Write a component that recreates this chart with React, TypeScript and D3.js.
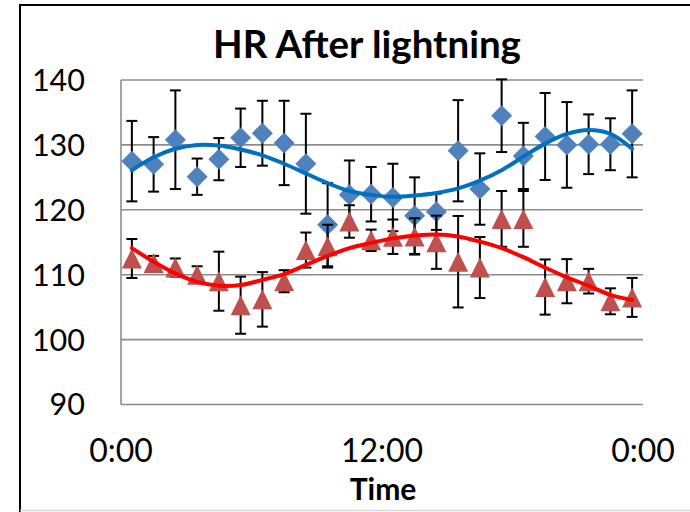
import React from "react";
import * as d3 from "d3";

// Hour of day for each sample (bin centres)
const hours = [0.5, 1.5, 2.5, 3.5, 4.5, 5.5, 6.5, 7.5, 8.5, 9.5, 10.5, 11.5, 12.5, 13.5, 14.5, 15.5, 16.5, 17.5, 18.5, 19.5, 20.5, 21.5, 22.5, 23.5];

// Blue series: mean heart rate and error
const blueMean = [127.5, 127.0, 130.8, 125.1, 127.8, 131.1, 131.8, 130.3, 127.1, 117.7, 122.3, 122.4, 121.9, 119.1, 119.7, 129.1, 123.2, 134.5, 128.3, 131.3, 130.0, 130.1, 130.1, 131.7];
const blueErr = [6.2, 4.2, 7.6, 2.8, 3.25, 4.5, 5.0, 6.5, 7.7, 6.4, 5.3, 4.2, 5.2, 5.9, 2.8, 7.8, 5.5, 5.6, 5.1, 6.7, 6.6, 4.6, 4.0, 6.7];
// Blue fitted trend
const blueFit = [126.1, 128.1, 129.4, 130.0, 129.9, 129.3, 128.4, 127.1, 125.6, 124.1, 122.9, 122.3, 122.0, 122.2, 122.6, 123.3, 124.5, 126.1, 128.2, 130.2, 131.7, 132.3, 131.7, 129.4];

// Red series: mean heart rate and error
const redMean = [112.5, 111.8, 111.1, 110.0, 109.0, 105.3, 106.2, 109.0, 113.8, 114.4, 118.2, 115.3, 115.85, 115.9, 115.0, 112.0, 111.1, 118.6, 118.6, 108.1, 109.0, 109.0, 105.9, 106.5];
const redErr = [3.0, 1.1, 1.4, 1.3, 4.55, 4.4, 4.2, 1.7, 2.7, 3.3, 2.5, 1.65, 2.65, 2.8, 4.1, 7.05, 4.7, 4.3, 4.3, 4.25, 3.4, 1.9, 2.0, 3.0];
// Red fitted trend
const redFit = [114.1, 112.0, 110.2, 108.9, 108.3, 108.4, 109.2, 110.1, 111.5, 112.9, 114.1, 114.9, 115.6, 116.0, 116.2, 115.9, 115.1, 114.1, 112.7, 111.1, 109.6, 108.3, 106.9, 106.1];

const yTicks = [90, 100, 110, 120, 130, 140];
const xTicks = [0, 12, 24];
const xTickLabels = ["0:00", "12:00", "0:00"];

const FONT = "Lato, 'Noto Sans', sans-serif";

export default function App() {
  const W = 690;
  const H = 512;
  const x = d3.scaleLinear().domain([0, 24]).range([121, 643]);
  const y = d3.scaleLinear().domain([90, 140]).range([404.5, 80]);

  const line = d3
    .line<number>()
    .x((_, i) => x(hours[i]))
    .y((d) => y(d))
    .curve(d3.curveCatmullRom.alpha(0.5));

  const diamond = (cx: number, cy: number, r: number) =>
    `M${cx},${cy - r}L${cx + r},${cy}L${cx},${cy + r}L${cx - r},${cy}Z`;
  const triangle = (cx: number, cy: number, r: number) =>
    `M${cx},${cy - r}L${cx + r},${cy + r}L${cx - r},${cy + r}Z`;

  const errorBars = (mean: number[], err: number[], key: string) =>
    mean.map((m, i) => {
      const cx = x(hours[i]);
      const top = y(m + err[i]);
      const bot = y(m - err[i]);
      return (
        <g key={`${key}${i}`} stroke="#000" strokeWidth={2}>
          <line x1={cx} x2={cx} y1={top} y2={bot} />
          <line x1={cx - 5.5} x2={cx + 5.5} y1={top} y2={top} />
          <line x1={cx - 5.5} x2={cx + 5.5} y1={bot} y2={bot} />
        </g>
      );
    });

  return (
    <svg
      width={W}
      height={H}
      style={{ position: "absolute", left: 0, top: 0, background: "#fff" }}
    >
      <rect x={0} y={0} width={W} height={H} fill="#fff" />
      {/* chart frame */}
      <line x1={20} x2={20} y1={4} y2={512} stroke="#000" strokeWidth={2} />
      <line x1={19} x2={W} y1={5} y2={5} stroke="#000" strokeWidth={2} />
      <line x1={20} x2={W} y1={510.5} y2={510.5} stroke="#d9d9d9" strokeWidth={1.5} />

      {/* title */}
      <text x={367} y={58} textAnchor="middle" fontFamily={FONT} fontWeight="bold" fontSize={38.5} fill="#000">
        HR After lightning
      </text>

      {/* gridlines */}
      {yTicks.map((t) => (
        <line key={t} x1={x(0)} x2={x(24)} y1={y(t)} y2={y(t)} stroke="#8c8c8c" strokeWidth={1.6} />
      ))}
      <line x1={x(0)} x2={x(0)} y1={y(140)} y2={y(90)} stroke="#8c8c8c" strokeWidth={1.6} />

      {/* y tick labels */}
      {yTicks.map((t) => (
        <text key={t} x={85} y={y(t)} dy="0.36em" textAnchor="end" fontFamily={FONT} fontSize={30.5} fill="#000">
          {t}
        </text>
      ))}

      {/* x tick labels */}
      {xTicks.map((t, i) => (
        <text key={i} x={x(t)} y={462} textAnchor="middle" fontFamily={FONT} fontSize={32} fill="#000">
          {xTickLabels[i]}
        </text>
      ))}
      <text x={383} y={500} textAnchor="middle" fontFamily={FONT} fontWeight="bold" fontSize={30} fill="#000">
        Time
      </text>

      {/* blue series */}
      {errorBars(blueMean, blueErr, "be")}
      {blueMean.map((m, i) => (
        <path key={`bd${i}`} d={diamond(x(hours[i]), y(m), 10.5)} fill="#4f81bd" />
      ))}

      {/* red series */}
      {errorBars(redMean, redErr, "re")}
      {redMean.map((m, i) => (
        <path key={`rt${i}`} d={triangle(x(hours[i]), y(m), 10)} fill="#c0504d" />
      ))}

      {/* fitted trends */}
      <path d={line(blueFit) || ""} fill="none" stroke="#0070c0" strokeWidth={4} strokeLinecap="round" />
      <path d={line(redFit) || ""} fill="none" stroke="#ff0000" strokeWidth={4} strokeLinecap="round" />
    </svg>
  );
}
